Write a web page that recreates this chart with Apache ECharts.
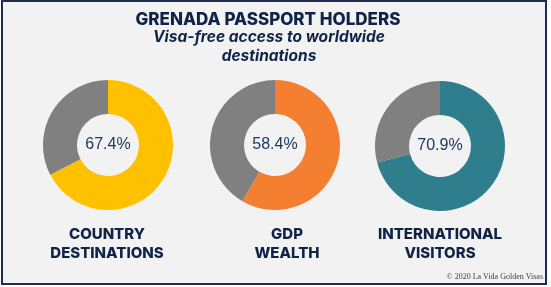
<!DOCTYPE html>
<html><head><meta charset="utf-8">
<script src="https://cdn.jsdelivr.net/npm/echarts@6/dist/echarts.min.js"></script>
<style>html,body{margin:0;padding:0;background:#fff}#c{width:551px;height:287px}</style>
</head><body><div id="c"></div>
<script>
const categories = ['COUNTRY\nDESTINATIONS', 'GDP\nWEALTH', 'INTERNATIONAL\nVISITORS'];
const values = [67.4, 58.4, 70.9];
const sliceColors = ['#FFC000', '#F47F30', '#2E7E8D'];
const restColor = '#808080';
const titleText = 'GRENADA PASSPORT HOLDERS';
const subtitleText = 'Visa-free access to worldwide\ndestinations';
const creditText = '© 2020 La Vida Golden Visas';

const centers = [[108, 145], [275, 145], [440, 146]];
const labelX = [107, 287, 440];
const navy = '#0F2347';

const chart = echarts.init(document.getElementById('c'), null, {renderer: 'canvas'});
const series = values.map((v, i) => ({
  type: 'pie',
  center: centers[i],
  radius: [31, 65],
  startAngle: 90,
  clockwise: true,
  silent: true,
  animation: false,
  labelLine: {show: false},
  label: {show: false},
  data: [
    {value: v, name: categories[i], itemStyle: {color: sliceColors[i]},
     label: {show: true, position: 'center', formatter: () => v.toFixed(1) + '%',
             fontFamily: 'Liberation Sans, Arial, sans-serif', fontSize: 16, color: '#1F3864'}},
    {value: +(100 - v).toFixed(1), name: 'rest', itemStyle: {color: restColor}}
  ]
}));

const graphics = [
  {type: 'rect', shape: {x: 2, y: 1, width: 544, height: 283}, style: {fill: '#F2F2F2', stroke: '#1F2D50', lineWidth: 2}, z: -10},
  {type: 'text', x: 268, y: 20, style: {text: titleText, font: '800 17px Inter, sans-serif', fill: navy, textAlign: 'center', textVerticalAlign: 'middle'}},
  {type: 'text', x: 269, y: 47, style: {text: subtitleText, font: 'italic 700 15.5px Inter, sans-serif', fill: navy, textAlign: 'center', textVerticalAlign: 'middle', lineHeight: 19}},
  {type: 'text', x: 543, y: 277, style: {text: creditText, font: '8px "Liberation Serif", serif', fill: '#404040', textAlign: 'right', textVerticalAlign: 'middle'}}
];
categories.forEach((c, i) => {
  graphics.push({type: 'text', x: labelX[i], y: 244, style: {text: c, font: '800 15px Inter, sans-serif', fill: navy, textAlign: 'center', textVerticalAlign: 'middle', lineHeight: 19}});
});

chart.setOption({
  backgroundColor: '#fff',
  animation: false,
  graphic: graphics,
  series: series
});
</script></body></html>
